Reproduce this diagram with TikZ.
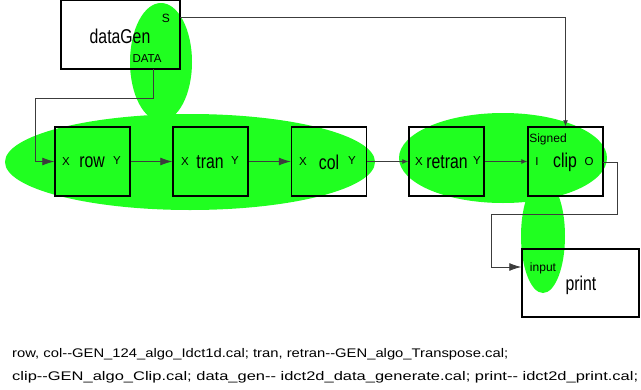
\documentclass[tikz,border=0pt]{standalone}
\usepackage{fontspec}
\usepackage{graphicx}
\setmainfont{Liberation Sans}
\usetikzlibrary{arrows.meta}
\definecolor{blobgreen}{RGB}{32,255,32}
\definecolor{wiregray}{RGB}{60,60,60}
% actor titles are set narrow
\newcommand{\narrow}[1]{\scalebox{0.79}[1]{#1}}
\begin{document}
\begin{tikzpicture}[
    x=1pt, y=-1pt,
    actor/.style={draw=black, line width=1.5pt, minimum width=75pt,
                  minimum height=69pt, inner sep=0pt},
    title/.style={font=\fontsize{20}{24}\selectfont, inner sep=0pt},
    port/.style={font=\fontsize{11.5}{13}\selectfont, inner sep=0pt},
    tag/.style={font=\fontsize{12}{14}\selectfont, inner sep=0pt},
    blob/.style={fill=blobgreen},
    wire/.style={draw=wiregray, line width=0.8pt},
    bigtip/.style={wire, -{Latex[length=12pt,width=8pt]}},
    smalltip/.style={wire, -{Latex[length=6pt,width=5pt]}},
    caption/.style={anchor=base west, inner sep=0pt, font=\fontsize{12.5}{15}\selectfont}
  ]
  \useasboundingbox (0,0) rectangle (641,389);

  % green regions (behind the actors)
  \fill[blob] (161,62) ellipse [x radius=31, y radius=59];
  \fill[blob] (190,162) ellipse [x radius=185, y radius=48];
  \fill[blob] (503,158) ellipse [x radius=104, y radius=45];
  \fill[blob] (543,236) ellipse [x radius=22, y radius=57];

  % actors
  \node[actor, minimum width=119pt] (gen) at (120.5,34.5) {};
  \node[title] at (120,36) {\narrow{dataGen}};
  \node[tag] at (166,18) {S};
  \node[tag, font=\fontsize{11.5}{13}\selectfont] at (147,59) {DATA};

  \foreach \nm/\cx in {row/92.5, tran/210.5, col/329, retran/446.5, clip/565.5} {
    \node[actor] (\nm) at (\cx,161.5) {};
  }
  \node[title] at (92,162) {\narrow{row}};
  \node[port] at (66,162) {X};
  \node[port] at (117,161) {Y};
  \node[title] at (210,162) {\narrow{tran}};
  \node[port] at (185,162) {X};
  \node[port] at (235,161) {Y};
  \node[title] at (329,162) {\narrow{col}};
  \node[port] at (303,162) {X};
  \node[port] at (352,161) {Y};
  \node[title] at (447,162) {\narrow{retran}};
  \node[port] at (419,162) {X};
  \node[port] at (477,161) {Y};
  \node[title] at (565,162) {\narrow{clip}};
  \node[tag] at (548,139) {Signed};
  \node[port] at (537,162) {I};
  \node[port] at (589,162) {O};

  \node[actor, minimum width=117pt, minimum height=68pt] (print) at (580.5,283) {};
  \node[title] at (581,285) {\narrow{print}};
  \node[tag] at (543,268) {input};

  % connectors
  \coordinate (dataout) at (153,69);
  \coordinate (sout) at (180,17);
  \coordinate (oout) at (603,162);
  \draw[bigtip] (dataout) |- (35,98) |- (row.west);
  \draw[bigtip] (row) -- (tran);
  \draw[bigtip] (tran) -- (col);
  \draw[smalltip] (col) -- (retran);
  \draw[smalltip] (retran) -- (clip);
  \draw[smalltip] (sout) -| (clip.north);
  \draw[bigtip] (oout) -| (617,214) -| (491,267) -- (print.west |- 0,267);

  % caption
  \node[caption] (cap1) at (12,357)
    {\resizebox{496pt}{\height}{row, col-{}-GEN\_124\_algo\_Idct1d.cal; tran, retran-{}-GEN\_algo\_Transpose.cal;}};
  \node[caption] (cap2) at (12,380)
    {\resizebox{626pt}{\height}{clip-{}-GEN\_algo\_Clip.cal; data\_gen-{}- idct2d\_data\_generate.cal; print-{}- idct2d\_print.cal;}};
\end{tikzpicture}
\end{document}
